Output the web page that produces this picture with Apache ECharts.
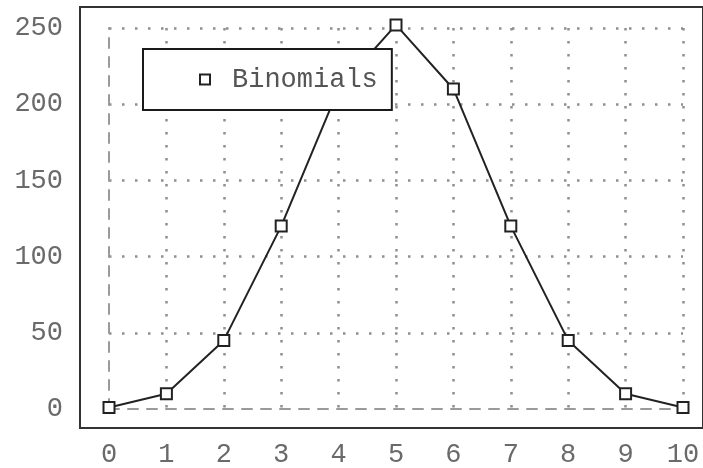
<!DOCTYPE html>
<html>
<head>
<meta charset="utf-8">
<script src="https://cdn.jsdelivr.net/npm/echarts@6/dist/echarts.min.js"></script>
<style>html,body{margin:0;padding:0;background:#fff}#c{width:703px;height:468px}</style>
</head>
<body>
<div id="c"></div>
<script>
var seriesName = 'Binomials';
var xValues = [0, 1, 2, 3, 4, 5, 6, 7, 8, 9, 10];
var yValues = [1, 10, 45, 120, 210, 252, 210, 120, 45, 10, 1];
var xTicks = { min: 0, max: 10, interval: 1 };
var yTicks = { min: 0, max: 250, interval: 50 };

var FONT = '"Liberation Mono", "Courier New", monospace';
var chart = echarts.init(document.getElementById('c'), null, { renderer: 'canvas' });
var data = xValues.map(function (x, i) { return [x, yValues[i]]; });
var dotted = { color: '#8f8f8f', width: 2.5, type: [2.5, 10.5] };
var dashed = { color: '#9a9a9a', width: 2, type: [10, 9] };

chart.setOption({
  animation: false,
  backgroundColor: '#ffffff',
  grid: [
    { left: 109, right: 20, top: 28, bottom: 58, containLabel: false },
    { left: 80, right: -10, top: 7, bottom: 40, show: true, borderColor: '#333', borderWidth: 2, backgroundColor: 'transparent', z: 0 }
  ],
  xAxis: [
    {
      type: 'value', gridIndex: 0, min: xTicks.min, max: xTicks.max, interval: xTicks.interval,
      axisLine: { show: true, onZero: false, lineStyle: dashed },
      axisTick: { show: false },
      axisLabel: { margin: 32, fontFamily: FONT, fontSize: 27, color: '#6a6a6a' },
      splitLine: { show: true, showMinLine: false, lineStyle: dotted }
    },
    { type: 'value', gridIndex: 1, show: false, min: 0, max: 1 }
  ],
  yAxis: [
    {
      type: 'value', gridIndex: 0, min: yTicks.min, max: yTicks.max, interval: yTicks.interval,
      axisLine: { show: true, onZero: false, lineStyle: dashed },
      axisTick: { show: false },
      axisLabel: { margin: 46, fontFamily: FONT, fontSize: 27, color: '#6a6a6a' },
      splitLine: { show: true, showMinLine: false, lineStyle: dotted }
    },
    { type: 'value', gridIndex: 1, show: false, min: 0, max: 1 }
  ],
  legend: {
    left: 143, top: 49,
    orient: 'horizontal',
    padding: [17, 14, 17, 56],
    backgroundColor: '#ffffff',
    borderColor: '#1a1a1a', borderWidth: 2, borderRadius: 0,
    itemWidth: 10, itemHeight: 10, itemGap: 10,
    textStyle: { fontFamily: FONT, fontSize: 27, color: '#555', padding: [0, 0, 0, 17] },
    data: [{ name: seriesName, icon: 'rect', itemStyle: { color: '#fff', borderColor: '#222', borderWidth: 2 } }],
    z: 10
  },
  series: [
    {
      name: seriesName, type: 'line', xAxisIndex: 0, yAxisIndex: 0,
      data: data, clip: false,
      symbol: 'rect', symbolSize: 11,
      lineStyle: { color: '#222', width: 2 },
      itemStyle: { color: '#fff', borderColor: '#222', borderWidth: 2 },
      z: 3
    }
  ]
});
</script>
</body>
</html>
